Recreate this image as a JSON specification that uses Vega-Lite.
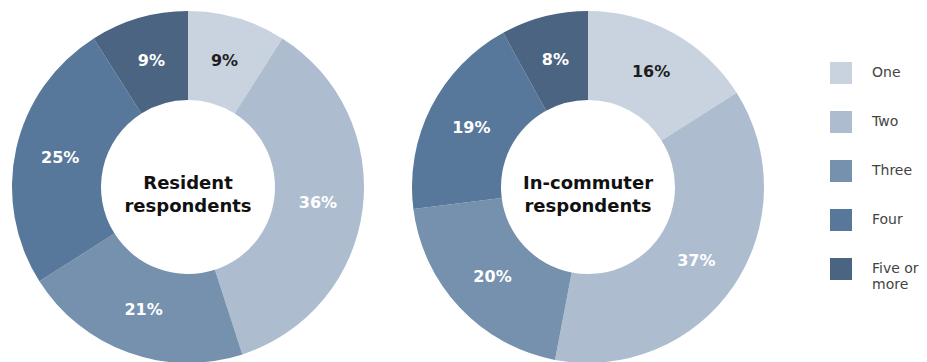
{
  "$schema": "https://vega.github.io/schema/vega-lite/v6.json",
  "padding": 0,
  "background": "white",
  "data": {"values": [
    {"group": "Resident respondents", "cat": "One", "rank": 1, "pct": 9, "label": "9%"},
    {"group": "Resident respondents", "cat": "Two", "rank": 2, "pct": 36, "label": "36%"},
    {"group": "Resident respondents", "cat": "Three", "rank": 3, "pct": 21, "label": "21%"},
    {"group": "Resident respondents", "cat": "Four", "rank": 4, "pct": 25, "label": "25%"},
    {"group": "Resident respondents", "cat": "Five or more", "rank": 5, "pct": 9, "label": "9%"},
    {"group": "In-commuter respondents", "cat": "One", "rank": 1, "pct": 16, "label": "16%"},
    {"group": "In-commuter respondents", "cat": "Two", "rank": 2, "pct": 37, "label": "37%"},
    {"group": "In-commuter respondents", "cat": "Three", "rank": 3, "pct": 20, "label": "20%"},
    {"group": "In-commuter respondents", "cat": "Four", "rank": 4, "pct": 19, "label": "19%"},
    {"group": "In-commuter respondents", "cat": "Five or more", "rank": 5, "pct": 8, "label": "8%"}
  ]},
  "facet": {"column": {"field": "group", "type": "nominal", "sort": ["Resident respondents", "In-commuter respondents"], "title": null, "header": {"title": null, "labels": false}}},
  "spacing": 24,
  "spec": {
    "width": 376,
    "height": 374,
    "layer": [
      {
        "mark": {"type": "arc", "outerRadius": 176, "innerRadius": 87},
        "encoding": {
          "theta": {"field": "pct", "type": "quantitative", "stack": true},
          "order": {"field": "rank", "type": "quantitative"},
          "color": {"field": "cat", "type": "nominal", "sort": ["One", "Two", "Three", "Four", "Five or more"],
            "scale": {"domain": ["One", "Two", "Three", "Four", "Five or more"], "range": ["#c9d3df", "#adbdcf", "#7591ad", "#58789b", "#4a6481"]},
            "legend": {"title": null, "orient": "none", "legendX": 830, "legendY": 62, "symbolType": "square", "symbolSize": 484, "symbolStrokeWidth": 0, "rowPadding": 27, "labelOffset": 20, "labelFont": "DejaVu Sans", "labelFontSize": 14, "labelColor": "#444444", "labelExpr": "datum.label == 'Five or more' ? ['Five or', 'more'] : datum.label", "labelLineHeight": 13}}
        }
      },
      {
        "mark": {"type": "text", "radius": 131, "font": "DejaVu Sans", "fontWeight": "bold", "fontSize": 16},
        "encoding": {
          "theta": {"field": "pct", "type": "quantitative", "stack": true},
          "order": {"field": "rank", "type": "quantitative"},
          "detail": {"field": "cat", "type": "nominal"},
          "text": {"field": "label", "type": "nominal"},
          "color": {"condition": {"test": "datum.cat === 'One'", "value": "#1e1e1e"}, "value": "white"}
        }
      },
      {
        "transform": [{"filter": "datum.rank === 1"}],
        "mark": {"type": "text", "font": "DejaVu Sans", "fontWeight": "bold", "fontSize": 18, "lineBreak": " ", "lineHeight": 23, "dy": -3, "color": "#111111", "baseline": "middle", "align": "center"},
        "encoding": {"text": {"field": "group", "type": "nominal"}}
      }
    ]
  },
  "config": {"view": {"stroke": null}}
}
